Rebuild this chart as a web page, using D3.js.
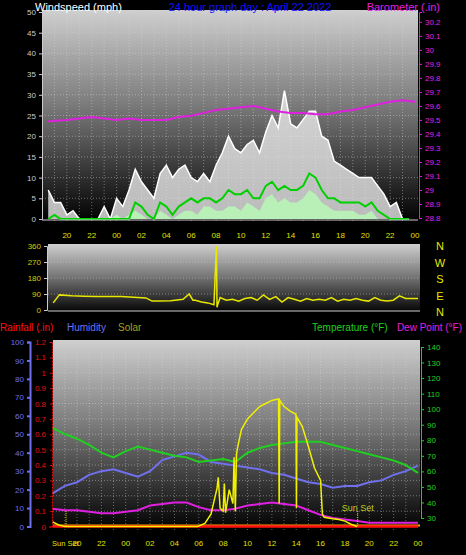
<!DOCTYPE html>
<html><head><meta charset="utf-8">
<script src="https://cdn.jsdelivr.net/npm/d3@7"></script>
<style>body{margin:0;background:#000}svg{display:block}text{font-family:"Liberation Sans",Arial,sans-serif}</style>
</head><body><svg id="c" width="466" height="555"></svg>
<script>
// ---------- DATA ----------
// wind, half-hourly from 18:30 (hours counted from 00:00 of the previous day; 24 = midnight)
const windTimes = d3.range(18.5, 47.51, 0.5);
const windGust = [7,4,4,1,2,0,0,0,0,3,0,5,3,7,12,9,7,5,11,13,10,12,13,10,9,11,9,13,16,20,17,16,18,19,16,21,25,22,31,23,22,24,26,26,20,19,14,13,12,11,10,10,10,8,6,3,4,0,0];
const windAvg  = [0,1,0,0,0,0,0,0,0,0,0,0,0,0,4,3,1,0,4,3,1,3,4,5,4,5,5,4,5,7,6,6,7,5,5,8,9,7,8,7,7,8,11,10,7,5,5,4,4,4,4,3,4,2,1,0,0,0,0];
const windLow  = [0,0,0,0,0,0,0,0,0,0,0,1,0,1,2,1,0,0,2,1,0,1,2,2,1,3,3,2,2,3,3,2,4,3,2,5,6,4,5,4,4,5,7,6,4,3,2,2,2,2,1,1,2,0,0,0,0,0,0];
const baroTimes = [18.5,20,22,24,25,26,28,29,30,31,32,33,34,35,36,37,38,39,40,41,42,43,44,45,46,47,48];
const baroVals  = [29.49,29.50,29.52,29.50,29.51,29.50,29.50,29.52,29.53,29.55,29.57,29.58,29.59,29.60,29.58,29.56,29.55,29.55,29.54,29.54,29.56,29.57,29.59,29.61,29.63,29.64,29.63];
const dirTimes = [18.5,19,20,21,22,23,24,25,26,26.5,27,28,29,29.5,29.8,30,30.5,31,31.5,31.7,31.75,31.8,32,32.5,33,33.5,34,34.5,35,35.5,36,36.5,37,37.5,38,38.5,39,39.5,40,40.5,41,41.5,42,42.5,43,43.5,44,44.5,45,45.5,46,46.5,47,48];
const dirVals  = [40,85,80,78,76,76,76,72,68,50,50,52,60,90,55,55,45,40,30,360,15,30,70,55,60,50,65,70,55,85,60,75,45,70,60,50,65,55,60,55,70,50,60,55,65,55,50,70,55,50,55,80,65,65];
const hourTimes = d3.range(18, 48.01, 1);
const tempVals = [88,84,81,77,72,69,73,76,74,72,70,69,66,67,68,66,72,75,77,78,79,79,79,77,75,73,71,69,67,64,59];
const humVals  = [18,22,24,28,30,31,29,27,30,36,38,40,39,35,34,33,32,31,29,28,26,24,23,21,22,22,24,25,28,30,33];
const dewVals  = [36,35,35,34,33,33,34,35,38,39,40,40,37,35,35,36,38,39,40,39,38,35,32,30,29,28,27,27,27,27,27];
const solarTimes = [18,18.5,19,29.9,30.5,31,31.5,31.6,31.75,32,32.1,32.2,32.5,32.8,32.9,33,33.1,33.2,33.5,34,34.5,35,35.5,36,36.55,36.6,36.65,37,37.5,37.98,38.02,38.06,38.5,39,39.5,40,40.15,40.3,41,41.5,42,42.5,43];
const solarVals  = [30,10,0,0,20,80,250,320,120,100,280,90,240,150,450,100,470,520,630,700,740,780,800,820,830,150,820,780,750,730,120,710,650,520,380,300,80,60,50,45,35,15,0];
const rainTimes = [18,48];
const rainVals = [0,0];
const windTicks=[20,22,24,26,28,30,32,34,36,38,40,42,44,46,48];
const tickLabels=["20","22","00","02","04","06","08","10","12","14","16","18","20","22","00"];
const sunSets=[19.1,43.05];

const svg=d3.select("#c");
const defs=svg.append("defs");
const g=defs.append("linearGradient").attr("id","bg").attr("x1",0).attr("x2",0).attr("y1",0).attr("y2",1);
g.append("stop").attr("offset",0).attr("stop-color","#cfcfcf");
g.append("stop").attr("offset",0.45).attr("stop-color","#7a7a7a");
g.append("stop").attr("offset",1).attr("stop-color","#000");

function panel(x0,x1,y0,y1){
  svg.append("rect").attr("x",x0).attr("y",y0).attr("width",x1-x0).attr("height",y1-y0).attr("fill","url(#bg)");
}
function grid(xs,x,ys,y,x0,x1,y0,y1){
  const gg=svg.append("g").attr("stroke","#d8d8d8").attr("stroke-opacity",0.45).attr("stroke-dasharray","1,2");
  xs.forEach(v=>gg.append("line").attr("x1",x(v)).attr("x2",x(v)).attr("y1",y0).attr("y2",y1));
  ys.forEach(v=>gg.append("line").attr("x1",x0).attr("x2",x1).attr("y1",y(v)).attr("y2",y(v)));
}
function txt(x,y,s,col,anchor,size){
  return svg.append("text").attr("x",x).attr("y",y).text(s).attr("fill",col).attr("text-anchor",anchor||"start").attr("font-size",size||9);
}

// ---------- TOP PANEL ----------
const xT=d3.scaleLinear().domain([18,48]).range([42,415]);
const yW=d3.scaleLinear().domain([0,50]).range([219,12]);
const yB=d3.scaleLinear().domain([28.8,30.27]).range([218,12]);
panel(42,418,10,222);
grid(d3.range(19,48,1),xT,d3.range(5,51,5),yW,42,418,10,222);
svg.append("path").datum(windTimes.map((t,i)=>[t,windGust[i]]))
  .attr("d",d3.area().x(d=>xT(d[0])).y0(yW(0)).y1(d=>yW(d[1])))
  .attr("fill","#e8e8e8").attr("fill-opacity",0.8);
svg.append("path").datum(windTimes.map((t,i)=>[t,windGust[i]]))
  .attr("d",d3.line().x(d=>xT(d[0])).y(d=>yW(d[1])))
  .attr("fill","none").attr("stroke","#fff").attr("stroke-width",1.5);
svg.append("path").datum(windTimes.map((t,i)=>[t,windLow[i]]))
  .attr("d",d3.area().x(d=>xT(d[0])).y0(yW(0)).y1(d=>yW(d[1])))
  .attr("fill","#b8f0b8");
svg.append("path").datum(windTimes.map((t,i)=>[t,windAvg[i]]))
  .attr("d",d3.line().x(d=>xT(d[0])).y(d=>yW(d[1])))
  .attr("fill","none").attr("stroke","#00d000").attr("stroke-width",2);
svg.append("line").attr("x1",42).attr("x2",418).attr("y1",yW(0)+1).attr("y2",yW(0)+1).attr("stroke","#ccc");
svg.append("path").datum(baroTimes.map((t,i)=>[t,baroVals[i]]))
  .attr("d",d3.line().x(d=>xT(d[0])).y(d=>yB(d[1])))
  .attr("fill","none").attr("stroke","#e020e0").attr("stroke-width",2);
const ax1=svg.append("g").attr("transform","translate(42,0)").call(d3.axisLeft(yW).tickValues(d3.range(0,51,5)).tickSize(3));
ax1.selectAll("text").attr("fill","#ccc").attr("font-size",8);
ax1.selectAll("line,path").attr("stroke","#ccc");
const ax2=svg.append("g").attr("transform","translate(419,0)").call(d3.axisRight(yB).tickValues(d3.range(28.8,30.25,0.1)).tickFormat(d=>(+d.toFixed(1))+"").tickSize(3));
ax2.selectAll("text").attr("fill","#e020e0").attr("font-size",8);
ax2.selectAll("line,path").attr("stroke","#e020e0");
txt(35,11,"Windspeed (mph)","#fff","start",11);
txt(250,11,"24 hour graph day : April 22 2022","#1010ff","middle",11);
txt(440,11,"Barometer (.in)","#e020e0","end",11);
windTicks.forEach((t,i)=>txt(xT(t),238,tickLabels[i],"#e0e000","middle",8));

// ---------- MIDDLE PANEL ----------
const xM=d3.scaleLinear().domain([18,48]).range([47,418]);
const yD=d3.scaleLinear().domain([0,360]).range([310,246]);
panel(48,420,244,313);
grid([],xM,[90,180,270],yD,48,420,244,313);
svg.append("line").attr("x1",48).attr("x2",420).attr("y1",311).attr("y2",311).attr("stroke","#ccc");
svg.append("path").datum(dirTimes.map((t,i)=>[t,dirVals[i]]))
  .attr("d",d3.line().x(d=>xM(d[0])).y(d=>yD(d[1])))
  .attr("fill","none").attr("stroke","#e8e800").attr("stroke-width",1.5);
const ax3=svg.append("g").attr("transform","translate(47,0)").call(d3.axisLeft(yD).tickValues([0,90,180,270,360]).tickSize(3));
ax3.selectAll("text").attr("fill","#d0d000").attr("font-size",8);
ax3.selectAll("line,path").attr("stroke","#ccc");
["N","W","S","E","N"].forEach((s,i)=>txt(440,250+i*16.5,s,"#e8e800","middle",11));

// ---------- BOTTOM PANEL ----------
const xB=d3.scaleLinear().domain([20,48]).range([77,418]);
const yH=d3.scaleLinear().domain([0,100]).range([526.5,342]);
const yR=d3.scaleLinear().domain([0,1.2]).range([526.5,342]);
const yS=d3.scaleLinear().domain([0,1200]).range([526.5,342]);
const yTp=d3.scaleLinear().domain([30,140]).range([518,347]);
panel(53,420,340,530);
grid(d3.range(19,48,1),xB,d3.range(0.1,1.21,0.1),yR,53,420,340,530);
const line=(ts,vs,y,col,w)=>svg.append("path").datum(ts.map((t,i)=>[t,vs[i]]))
  .attr("d",d3.line().x(d=>xB(d[0])).y(d=>y(d[1]))).attr("fill","none").attr("stroke",col).attr("stroke-width",w);
line(hourTimes,humVals,yH,"#7070ee",2);
line(hourTimes,tempVals,yTp,"#20d020",2);
line(hourTimes,dewVals,yTp,"#e020e0",2);
svg.append("line").attr("x1",53).attr("x2",420).attr("y1",yS(0)-1).attr("y2",yS(0)-1).attr("stroke","#ffa000").attr("stroke-width",2);
line(rainTimes,rainVals,yR,"#ff1010",2.5);
line(solarTimes,solarVals,yS,"#f0f000",1.5);
sunSets.forEach(t=>svg.append("line").attr("x1",xB(t)).attr("x2",xB(t)).attr("y1",yR(0.1)).attr("y2",yR(0))
  .attr("stroke","#e0e000").attr("stroke-dasharray","1,1"));
txt(xB(43.05),511,"Sun Set","#c8c820","middle",9);
const ax4=svg.append("g").attr("transform","translate(30,0)").call(d3.axisLeft(yH).tickValues(d3.range(0,101,10)).tickSize(3));
ax4.selectAll("text").attr("fill","#7070ee").attr("font-size",8);
ax4.selectAll("line,path").attr("stroke","#7070ee").attr("stroke-width",2);
const ax5=svg.append("g").attr("transform","translate(52,0)").call(d3.axisLeft(yR).tickValues(d3.range(0,1.21,0.1)).tickFormat(d=>(+d.toFixed(1))+"").tickSize(3));
ax5.selectAll("text").attr("fill","#e01010").attr("font-size",8);
ax5.selectAll("line,path").attr("stroke","#e01010").attr("stroke-dasharray","2,1");
const ax6=svg.append("g").attr("transform","translate(421,0)").call(d3.axisRight(yTp).tickValues(d3.range(30,141,10)).tickSize(3));
ax6.selectAll("text").attr("fill","#20d020").attr("font-size",8);
ax6.selectAll("line,path").attr("stroke","#20d020");
txt(0,331,"Rainfall (.in)","#ff1010","start",10);
txt(67,331,"Humidity","#7070ee","start",10);
txt(118,331,"Solar","#a0a020","start",10);
txt(312,331,"Temperature (°F)","#20d020","start",10);
txt(462,331,"Dew Point (°F)","#e020e0","end",10);
windTicks.forEach((t,i)=>txt(xB(t),546,tickLabels[i],"#e0e000","middle",8));
txt(52,546,"Sun Set","#e0e000","start",7.5);
</script></body></html>
